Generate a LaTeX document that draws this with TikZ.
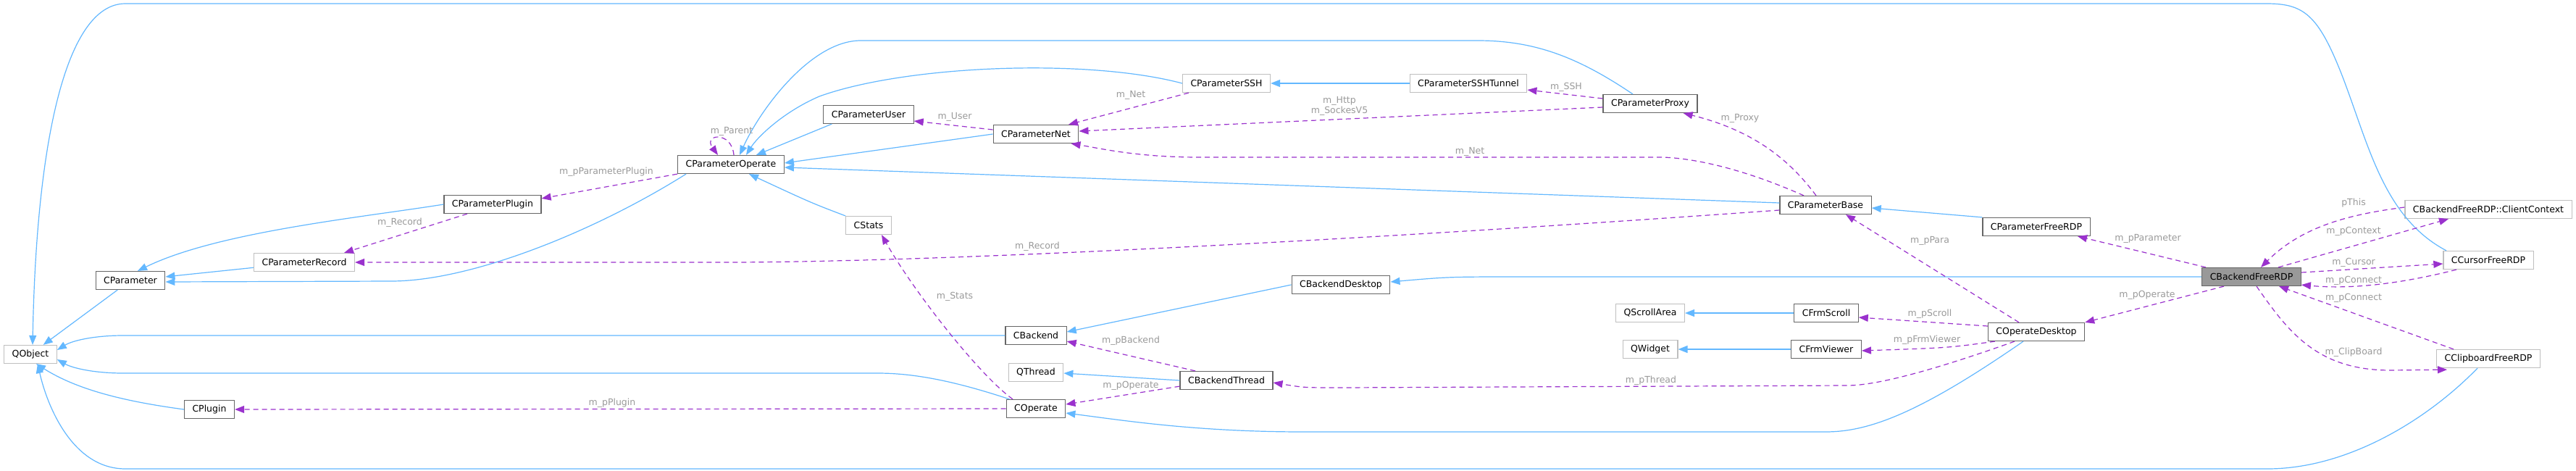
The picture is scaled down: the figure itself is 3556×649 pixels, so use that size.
\documentclass[tikz,border=0pt]{standalone}
\usepackage{fontspec}
\setmainfont{DejaVu Sans}
\usetikzlibrary{arrows.meta}
\definecolor{eblue}{HTML}{63B8FF}
\definecolor{epurp}{HTML}{9A32CD}
\definecolor{lgray}{HTML}{9A9A9A}
\definecolor{dborder}{HTML}{666666}
\definecolor{lborder}{HTML}{BFBFBF}
\begin{document}
\begin{tikzpicture}[x=1pt,y=-1pt,
  box/.style={draw=dborder,line width=1.2pt,fill=white,inner xsep=11pt,inner ysep=0pt,minimum height=25pt,font=\fontsize{12.5}{14}\selectfont},
  lbox/.style={box,draw=lborder},
  inh/.style={draw=eblue,line width=1.2pt,-{Triangle[length=13pt,width=10pt]}},
  dep/.style={draw=epurp,line width=1.2pt,dash pattern=on 7pt off 5pt,-{Triangle[length=13pt,width=10pt]}},
  lab/.style={text=lgray,font=\fontsize{12.5}{14}\selectfont,inner sep=1pt,align=center}]
\useasboundingbox[fill=white] (0,0) rectangle (3556,649);
% nodes
\node[lbox] (QObject) at (42,489) {QObject};
\node[box] (CParameter) at (180,387) {CParameter};
\node[lbox] (Record) at (420,362) {CParameterRecord};
\node[box] (CPP) at (680,282) {CParameterPlugin};
\node[box] (CPlugin) at (289,565) {CPlugin};
\node[box] (CPO) at (1009,227) {CParameterOperate};
\node[box] (User) at (1199,158) {CParameterUser};
\node[box] (Net) at (1430,185) {CParameterNet};
\node[lbox] (SSH) at (1693,115) {CParameterSSH};
\node[lbox] (CStats) at (1199,311) {CStats};
\node[box] (Backend) at (1430,463) {CBackend};
\node[lbox] (QThread) at (1430,514) {QThread};
\node[box] (Thread) at (1693,525) {CBackendThread};
\node[box] (COperate) at (1430,564) {COperate};
\node[box] (CBD) at (1851,393) {CBackendDesktop};
\node[lbox] (Tunnel) at (2027,115) {CParameterSSHTunnel};
\node[box] (Proxy) at (2278,143) {CParameterProxy};
\node[box] (Base) at (2520,283) {CParameterBase};
\node[lbox] (QScroll) at (2278,432) {QScrollArea};
\node[box] (FrmScroll) at (2521,432) {CFrmScroll};
\node[lbox] (QWidget) at (2278,482) {QWidget};
\node[box] (FrmViewer) at (2521,482) {CFrmViewer};
\node[box] (PFR) at (2811,313) {CParameterFreeRDP};
\node[box,fill={rgb,255:red,153;green,153;blue,153}] (BFR) at (3108,382) {CBackendFreeRDP};
\node[box] (COD) at (2811,458) {COperateDesktop};
\node[lbox] (CC) at (3435,289) {CBackendFreeRDP::ClientContext};
\node[lbox] (Cursor) at (3435,359) {CCursorFreeRDP};
\node[lbox] (Clip) at (3435,495) {CClipboardFreeRDP};
% inheritance
\draw[inh] (CParameter) -- (QObject);
\draw[inh] (Record) -- (CParameter);
\draw[inh] (CPP.west) .. controls (500,300) and (300,320) .. ([xshift=10pt]CParameter.north);
\draw[inh] ([xshift=12pt]CPO.south west) .. controls (820,320) and (650,388) .. (540,388) -- ([yshift=-2pt]CParameter.east);
\draw[inh] (CPlugin.west) .. controls (180,555) and (110,540) .. ([xshift=8pt]QObject.south);
\draw[inh] (Backend.west) -- (170,463) .. controls (130,463) and (100,470) .. ([yshift=6pt]QObject.east);
\draw[inh] ([xshift=5pt]COperate.north west) .. controls (1330,530) and (1270,515) .. (1212,515) -- (170,515) .. controls (130,515) and (100,508) .. ([yshift=-7pt]QObject.east);
\draw[inh] ([xshift=12pt]User.south west) -- ([xshift=35pt]CPO.north);
\draw[inh] (Net.west) -- ([yshift=2pt]CPO.east);
\draw[inh] (SSH.west) .. controls (1500,80) and (1250,90) .. (1131,133) .. controls (1080,155) and (1045,190) .. ([xshift=21pt]CPO.north);
\draw[inh] ([xshift=-24pt]Proxy.north) .. controls (2180,80) and (2120,56) .. (2040,56) -- (1188,56) .. controls (1120,56) and (1050,150) .. ([xshift=12pt]CPO.north);
\draw[inh] ([yshift=3pt]Base.west) -- ([yshift=-4pt]CPO.east);
\draw[inh] (CStats.north west) .. controls (1120,280) .. ([xshift=25pt]CPO.south);
\draw[inh] (Tunnel.west) -- (SSH.east);
\draw[inh] (PFR.north west) -- ([yshift=-4pt]Base.east);
\draw[inh] (CBD.west) -- ([yshift=5pt]Backend.east);
\draw[inh] (BFR.west) -- (2100,382) .. controls (2000,382) .. ([yshift=4pt]CBD.east);
\draw[inh] (Thread.west) -- ([yshift=-1pt]QThread.east);
\draw[inh] (FrmScroll) -- (QScroll);
\draw[inh] (FrmViewer) -- (QWidget);
\draw[inh] ([xshift=-18pt]COD.south) .. controls (2650,570) and (2580,596) .. (2520,596) -- (1800,596) .. controls (1650,596) and (1550,580) .. ([yshift=-6pt]COperate.east);
\draw[inh] ([xshift=-58pt]Cursor.north) .. controls (3290,300) and (3270,200) .. (3233,104) .. controls (3200,20) and (3180,5) .. (3129,5) -- (173,5) .. controls (90,5) and (50,200) .. ([xshift=3pt]QObject.north);
\draw[inh] ([xshift=-15pt]Clip.south) .. controls (3350,580) and (3240,647) .. (3130,647) -- (173,647) .. controls (100,647) and (65,560) .. ([xshift=10pt]QObject.south);
% dependencies
\draw[dep] (CPO.south west) -- ([yshift=-5pt]CPP.north east);
\node[lab] at (837,237) {m\_pParameterPlugin};
\draw[dep] ([xshift=-35pt]CPP.south) -- ([xshift=55pt]Record.north);
\node[lab] at (552,307) {m\_Record};
\draw[dep] ([yshift=-7pt]Base.west) .. controls (1900,330) and (1300,362) .. (1000,362) -- (Record.east);
\node[lab] at (1432,340) {m\_Record};
\draw[dep] ([xshift=4pt]CPO.north) .. controls (1010,180) and (970,185) .. ([xshift=-18pt]CPO.north);
\node[lab] at (1010,181) {m\_Parent};
\draw[dep] ([yshift=6pt]Net.west) -- ([yshift=-9pt]User.east);
\node[lab] at (1318,161) {m\_User};
\draw[dep] ([xshift=-52pt]SSH.south) -- ([xshift=45pt]Net.north);
\node[lab] at (1561,131) {m\_Net};
\draw[dep] ([yshift=-5pt]Proxy.west) -- ([yshift=4pt]Net.east);
\node[lab] at (1849,146) {m\_Http\\m\_SockesV5};
\draw[dep] ([xshift=-30pt]Base.north) .. controls (2400,230) and (2330,217) .. (2290,217) -- (1656,217) .. controls (1570,217) and (1520,205) .. ([xshift=-11pt]Net.south east);
\node[lab] at (2029,209) {m\_Net};
\draw[dep] ([yshift=7pt]Proxy.west) -- ([yshift=-9pt]Tunnel.east);
\node[lab] at (2162,120) {m\_SSH};
\draw[dep] ([xshift=-13pt]Base.north) .. controls (2470,220) and (2420,180) .. ([xshift=-20pt]Proxy.south east);
\node[lab] at (2402,163) {m\_Proxy};
\draw[dep] ([xshift=-32pt]COperate.north) .. controls (1350,516) and (1260,400) .. ([xshift=18pt]CStats.south);
\node[lab] at (1318,409) {m\_Stats};
\draw[dep] (COperate.west) -- (CPlugin.east);
\node[lab] at (845,556) {m\_pPlugin};
\draw[dep] ([xshift=-43pt]Thread.north) -- ([yshift=-8pt]Backend.east);
\node[lab] at (1561,470) {m\_pBackend};
\draw[dep] ([yshift=5pt]Thread.south west) -- ([yshift=6pt]COperate.east);
\node[lab] at (1561,532) {m\_pOperate};
\draw[dep] ([xshift=-30pt]COD.south) .. controls (2700,500) and (2600,532) .. (2550,532) -- (1850,535) .. controls (1800,535) .. ([yshift=-3pt]Thread.east);
\node[lab] at (2279,525) {m\_pThread};
\draw[dep] ([xshift=-24pt]COD.north) -- ([xshift=28pt]Base.south);
\node[lab] at (2664,332) {m\_pPara};
\draw[dep] ([yshift=8pt]COD.west) -- ([yshift=-6pt]FrmScroll.east);
\node[lab] at (2664,433) {m\_pScroll};
\draw[dep] ([xshift=10pt]COD.south west) .. controls (2690,480) .. ([yshift=-2pt]FrmViewer.east);
\node[lab] at (2660,469) {m\_pFrmViewer};
\draw[dep] ([xshift=-63pt]BFR.north) -- ([xshift=57pt]PFR.south);
\node[lab] at (2965,329) {m\_pParameter};
\draw[dep] ([xshift=-38pt]BFR.south) -- (COD.north east);
\node[lab] at (2964,407) {m\_pOperate};
\draw[dep] ([yshift=3pt]CC.west) .. controls (3250,295) and (3180,310) .. ([xshift=13pt]BFR.north);
\node[lab] at (3249,280) {pThis};
\draw[dep] ([xshift=37pt]BFR.north) -- ([xshift=-55pt]CC.south);
\node[lab] at (3249,319) {m\_pContext};
\draw[dep] ([yshift=6pt]BFR.east) -- ([yshift=-5pt]Cursor.west);
\node[lab] at (3249,362) {m\_Cursor};
\draw[dep] ([xshift=-44pt]Cursor.south) .. controls (3320,390) and (3250,400) .. ([yshift=2pt]BFR.south east);
\node[lab] at (3249,387) {m\_pConnect};
\draw[dep] ([xshift=-48pt]Clip.north) -- ([xshift=38pt]BFR.south);
\node[lab] at (3249,411) {m\_pConnect};
\draw[dep] ([xshift=7pt]BFR.south) .. controls (3160,460) and (3200,511) .. (3300,511) -- ([xshift=15pt,yshift=-2pt]Clip.south west);
\node[lab] at (3249,486) {m\_ClipBoard};
\end{tikzpicture}
\end{document}
